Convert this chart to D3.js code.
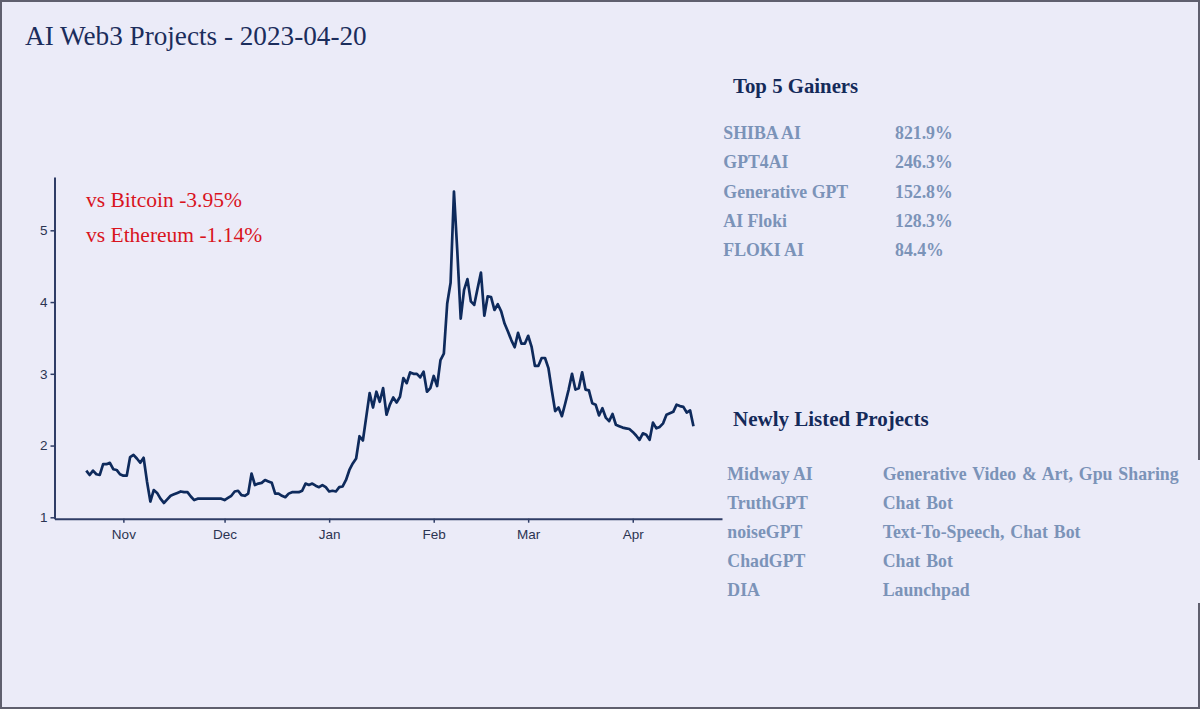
<!DOCTYPE html>
<html>
<head>
<meta charset="utf-8">
<script src="https://cdn.jsdelivr.net/npm/d3@7"></script>
<style>
  body { margin: 0; background: #ebebf8; }
  svg { display: block; }
</style>
</head>
<body>
<div id="chart"></div>
<script>
// daily index values, one array per month (Oct starts on the 21st)
const octStartDay = 21;
const valuesOct = [1.65, 1.59, 1.65, 1.60, 1.59, 1.74, 1.74, 1.76, 1.67, 1.66, 1.60];
const valuesNov = [1.58, 1.58, 1.84, 1.87, 1.82, 1.76, 1.83, 1.50, 1.22, 1.38,
                   1.34, 1.26, 1.20, 1.25, 1.30, 1.32, 1.34, 1.36, 1.35, 1.35,
                   1.29, 1.24, 1.26, 1.26, 1.26, 1.26, 1.26, 1.26, 1.26, 1.26];
const valuesDec = [1.24, 1.27, 1.30, 1.36, 1.37, 1.31, 1.30, 1.33, 1.61, 1.45,
                   1.47, 1.48, 1.52, 1.50, 1.48, 1.33, 1.33, 1.30, 1.28, 1.33,
                   1.35, 1.35, 1.35, 1.37, 1.47, 1.45, 1.47, 1.44, 1.42, 1.45, 1.42];
const valuesJan = [1.36, 1.37, 1.36, 1.42, 1.43, 1.52, 1.66, 1.75, 1.82, 2.13,
                   2.07, 2.40, 2.73, 2.53, 2.75, 2.61, 2.80, 2.43, 2.57, 2.67,
                   2.60, 2.68, 2.94, 2.87, 3.02, 3.00, 3.00, 2.95, 3.03, 2.75, 2.80];
const valuesFeb = [2.97, 2.83, 3.19, 3.28, 3.98, 4.27, 5.54, 4.70, 3.77, 4.17,
                   4.32, 4.01, 3.96, 4.19, 4.41, 3.81, 4.08, 4.07, 3.89, 3.97,
                   3.87, 3.70, 3.59, 3.47, 3.37, 3.57, 3.42, 3.42];
const valuesMar = [3.53, 3.38, 3.11, 3.11, 3.22, 3.22, 3.08, 2.77, 2.48, 2.53,
                   2.41, 2.59, 2.78, 3.00, 2.78, 2.80, 3.02, 2.78, 2.77, 2.59,
                   2.57, 2.42, 2.52, 2.39, 2.34, 2.44, 2.29, 2.27, 2.25, 2.24, 2.23];
const valuesApr = [2.19, 2.14, 2.08, 2.17, 2.15, 2.08, 2.32, 2.24, 2.26, 2.31,
                   2.43, 2.45, 2.47, 2.57, 2.55, 2.54, 2.46, 2.49, 2.27];

const yTicks = [1, 2, 3, 4, 5];

const comparisons = ["vs Bitcoin -3.95%", "vs Ethereum -1.14%"];

const gainerNames = ["SHIBA AI", "GPT4AI", "Generative GPT", "AI Floki", "FLOKI AI"];
const gainerPcts = ["821.9%", "246.3%", "152.8%", "128.3%", "84.4%"];

const newNames = ["Midway AI", "TruthGPT", "noiseGPT", "ChadGPT", "DIA"];
const newTags = ["Generative Video & Art, Gpu Sharing", "Chat Bot",
                 "Text-To-Speech, Chat Bot", "Chat Bot", "Launchpad"];

// build the series
const months = [
  [2022, 9, octStartDay, valuesOct],
  [2022, 10, 1, valuesNov],
  [2022, 11, 1, valuesDec],
  [2023, 0, 1, valuesJan],
  [2023, 1, 1, valuesFeb],
  [2023, 2, 1, valuesMar],
  [2023, 3, 1, valuesApr]
];
const data = [];
months.forEach(([yr, mo, d0, vals]) => {
  vals.forEach((v, i) => data.push({date: new Date(Date.UTC(yr, mo, d0 + i)), value: v}));
});

const width = 1200, height = 709;
const bg = "#ebebf8";
const serif = "'Liberation Serif', 'Times New Roman', serif";
const sans = "'Liberation Sans', Arial, sans-serif";

const svg = d3.select("#chart").append("svg")
  .attr("width", width)
  .attr("height", height);

svg.append("rect").attr("width", width).attr("height", height).attr("fill", bg);

// frame (right edge is broken beside the new listings block)
const frame = svg.append("g").attr("stroke", "#5f5f6e").attr("stroke-width", 2).attr("fill", "none");
frame.append("path").attr("d", "M1199,460 V1 H1 V708 H1199 V603");

// title
svg.append("text")
  .attr("x", 25).attr("y", 45)
  .attr("font-family", serif).attr("font-size", 27.2)
  .attr("fill", "#1b2d5c")
  .text("AI Web3 Projects - 2023-04-20");

// scales
const xScale = d3.scaleUtc()
  .domain([new Date(Date.UTC(2022, 9, 11, 14)), new Date(Date.UTC(2023, 3, 27, 11))])
  .range([54.5, 722]);
const yScale = d3.scaleLinear()
  .domain([0.9805, 5.743])
  .range([518.7, 177]);

const axisColor = "#2f3d66";

//xAxis code
const gx = svg.append("g")
  .attr("transform", "translate(0," + yScale(0.9805) + ")")
  .call(d3.axisBottom(xScale)
    .ticks(d3.utcMonth.every(1))
    .tickFormat(d3.utcFormat("%b"))
    .tickSize(4)
    .tickSizeOuter(0));

//yAxis code
const gy = svg.append("g")
  .attr("transform", "translate(" + xScale.range()[0] + ",0)")
  .call(d3.axisLeft(yScale)
    .tickValues(yTicks)
    .tickFormat(d3.format("d"))
    .tickSize(4)
    .tickSizeOuter(0));

[gx, gy].forEach(g => {
  g.select(".domain").attr("stroke", axisColor).attr("stroke-width", 2);
  g.selectAll(".tick line").attr("stroke", axisColor).attr("stroke-width", 1.5);
  g.selectAll(".tick text")
    .attr("fill", "#2b3452")
    .attr("font-family", sans)
    .attr("font-size", 13.5);
});
gx.selectAll(".tick text").attr("dy", "1.0em");

//line & path
const line = d3.line()
  .x(d => xScale(d.date))
  .y(d => yScale(d.value));

svg.append("path")
  .datum(data)
  .attr("fill", "none")
  .attr("stroke", "#0e2a5c")
  .attr("stroke-width", 2.7)
  .attr("stroke-linejoin", "round")
  .attr("d", line);

// comparison notes
svg.selectAll(".cmp")
  .data(comparisons)
  .join("text")
  .attr("x", 86)
  .attr("y", (d, i) => 206.7 + i * 35)
  .attr("font-family", serif).attr("font-size", 21.5)
  .attr("fill", "#d9141e")
  .text(d => d);

// top gainers block
const rowFill = "#7b93b8";
const headFill = "#142a5a";

svg.append("text")
  .attr("x", 733).attr("y", 93)
  .attr("font-family", serif).attr("font-weight", "bold").attr("font-size", 20.8)
  .attr("fill", headFill)
  .text("Top 5 Gainers");

const gainers = svg.append("g")
  .attr("font-family", serif).attr("font-weight", "bold").attr("font-size", 17.8)
  .attr("fill", rowFill);
gainers.selectAll(".gname")
  .data(gainerNames)
  .join("text")
  .attr("x", 723.3)
  .attr("y", (d, i) => 139.3 + i * 29.1)
  .text(d => d);
gainers.selectAll(".gpct")
  .data(gainerPcts)
  .join("text")
  .attr("x", 895)
  .attr("y", (d, i) => 139.3 + i * 29.1)
  .text(d => d);

// newly listed block
svg.append("text")
  .attr("x", 733).attr("y", 425.7)
  .attr("font-family", serif).attr("font-weight", "bold").attr("font-size", 21)
  .attr("fill", headFill)
  .text("Newly Listed Projects");

const listed = svg.append("g")
  .attr("font-family", serif).attr("font-weight", "bold").attr("font-size", 17.8)
  .attr("fill", rowFill);
listed.selectAll(".nname")
  .data(newNames)
  .join("text")
  .attr("x", 727.3)
  .attr("y", (d, i) => 480 + i * 28.9)
  .text(d => d);
listed.selectAll(".ntag")
  .data(newTags)
  .join("text")
  .attr("x", 882.7)
  .attr("y", (d, i) => 480 + i * 28.9)
  .attr("word-spacing", 1.5)
  .text(d => d);
</script>
</body>
</html>
